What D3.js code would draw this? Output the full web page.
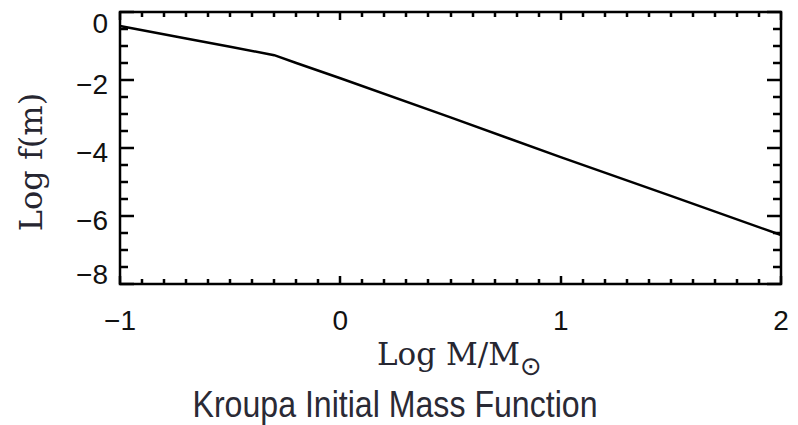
<!DOCTYPE html>
<html>
<head>
<meta charset="utf-8">
<script src="https://cdn.jsdelivr.net/npm/d3@7"></script>
<style>
  body { margin: 0; background: #fff; }
  svg { display: block; }
</style>
</head>
<body>
<svg id="chart" width="798" height="425"></svg>
<script>
// values (log m, log f(m))
var logMass = [-1, -0.7, -0.5, -0.3, -0.2, 0, 0.5, 1, 1.5, 2];
var logF    = [-0.41, -0.78, -1.02, -1.27, -1.5, -1.95, -3.1, -4.27, -5.41, -6.56];

var xMajor = [-1, 0, 1, 2];
var xTickLabels = ["\u22121", "0", "1", "2"];
var yMajor = [0, -2, -4, -6, -8];
var yTickLabels = ["0", "\u22122", "\u22124", "\u22126", "\u22128"];

var svg = d3.select("#chart"),
    box = {left: 120, right: 781, top: 12, bottom: 284};

var x = d3.scaleLinear().domain([-1, 2]).range([box.left, box.right]),
    y = d3.scaleLinear().domain([-8, 0]).range([box.bottom, box.top]);

var xMinor = d3.range(-10, 21).map(function(i) { return i / 10; })
    .filter(function(v) { return xMajor.indexOf(Math.round(v * 10) / 10) < 0; });
var yMinor = d3.range(-16, 1).map(function(i) { return i / 2; })
    .filter(function(v) { return yMajor.indexOf(v) < 0; });

var tickFont = "'Liberation Sans', Arial, sans-serif";

// tick marks on all four sides, drawn as one path
var tp = d3.path();
function xTicks(vals, len) {
    vals.forEach(function(d) {
        var px = Math.round(x(d));
        tp.moveTo(px, box.bottom); tp.lineTo(px, box.bottom - len);
        tp.moveTo(px, box.top);    tp.lineTo(px, box.top + len);
    });
}
function yTicks(vals, len) {
    vals.forEach(function(d) {
        var py = Math.round(y(d));
        tp.moveTo(box.left, py);  tp.lineTo(box.left + len, py);
        tp.moveTo(box.right, py); tp.lineTo(box.right - len, py);
    });
}
xTicks(xMinor, 5);
xTicks(xMajor, 8);
yTicks(yMinor, 8);
yTicks(yMajor, 14);

svg.append("path")
    .attr("d", tp.toString())
    .attr("fill", "none")
    .attr("stroke", "#000")
    .attr("stroke-width", 2.5);

// tick labels
svg.append("g").selectAll("text")
    .data(xMajor).enter().append("text")
    .attr("x", function(d) { return x(d); })
    .attr("y", box.bottom + 46)
    .attr("text-anchor", "middle")
    .style("font-family", tickFont).style("font-size", "28px")
    .attr("fill", "#111")
    .text(function(d, i) { return xTickLabels[i]; });

svg.append("g").selectAll("text")
    .data(yMajor).enter().append("text")
    .attr("x", box.left - 12)
    .attr("y", function(d) {
        return Math.min(Math.max(y(d) + 4, box.top + 11), box.bottom - 10);
    })
    .attr("dy", "0.36em")
    .attr("text-anchor", "end")
    .style("font-family", tickFont).style("font-size", "28px")
    .attr("fill", "#111")
    .text(function(d, i) { return yTickLabels[i]; });

// frame
svg.append("rect")
    .attr("x", box.left).attr("y", box.top)
    .attr("width", box.right - box.left).attr("height", box.bottom - box.top)
    .attr("fill", "none").attr("stroke", "#000").attr("stroke-width", 2.5);

// IMF curve
var pts = logMass.map(function(m, i) { return [m, logF[i]]; });
svg.append("path")
    .datum(pts)
    .attr("fill", "none")
    .attr("stroke", "#000")
    .attr("stroke-width", 2.5)
    .attr("d", d3.line()
        .x(function(d) { return x(d[0]); })
        .y(function(d) { return y(d[1]); }));

// axis titles
svg.append("text")
    .attr("transform", "translate(42,162) rotate(-90)")
    .attr("text-anchor", "middle")
    .style("font-family", "'DejaVu Serif', serif")
    .style("font-size", "32px")
    .attr("fill", "#262631")
    .text("Log f(m)");

var xt = svg.append("text")
    .attr("x", 377).attr("y", 365)
    .style("font-family", "'DejaVu Serif', serif")
    .style("font-size", "31px")
    .attr("fill", "#262631");
xt.append("tspan").text("Log M/M");
xt.append("tspan").attr("dy", 10).style("font-size", "26px")
    .style("font-family", "'DejaVu Sans', sans-serif").text("\u2299");

svg.append("text")
    .attr("x", 395).attr("y", 417)
    .attr("text-anchor", "middle")
    .attr("textLength", 405)
    .attr("lengthAdjust", "spacingAndGlyphs")
    .style("font-family", "'Liberation Sans', Arial, sans-serif")
    .style("font-size", "37px")
    .attr("fill", "#2a2a35")
    .text("Kroupa Initial Mass Function");
</script>
</body>
</html>
